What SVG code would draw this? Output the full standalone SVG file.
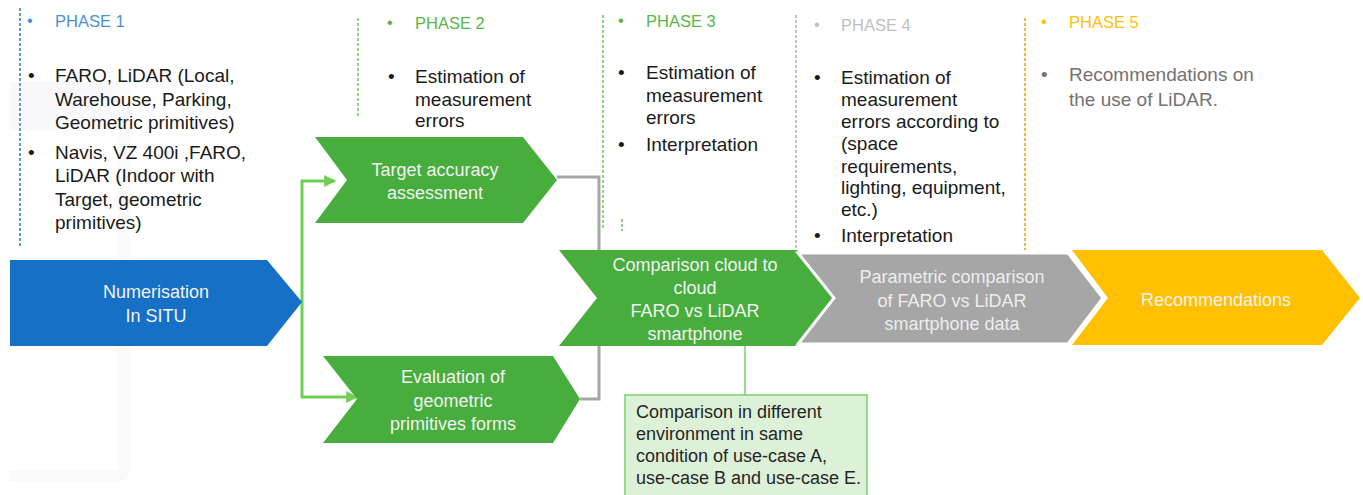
<svg xmlns="http://www.w3.org/2000/svg" width="1363" height="495" viewBox="0 0 1363 495">
<defs>
<style>
text{font-family:"Liberation Sans",Arial,sans-serif}
.body{font-size:19px;fill:#1a1a1a}
.hd{font-size:16.5px}
.lbl{font-size:18px;fill:#f2f2f2;text-anchor:middle}
.note{font-size:18px;fill:#262626}
.dash{fill:none;stroke-width:2;stroke-dasharray:3 2}
.conn-g{fill:none;stroke:#6fcf52;stroke-width:3}
.conn-grey{fill:none;stroke:#a6a6a6;stroke-width:3}
</style>
<marker id="ah" viewBox="0 0 10 10" refX="9" refY="5" markerWidth="4" markerHeight="4" orient="auto" markerUnits="strokeWidth">
<path d="M0,0 L10,5 L0,10 z" fill="#6fcf52"/>
</marker>
</defs>
<rect width="1363" height="495" fill="#ffffff"/>

<!-- faint background shape -->
<g id="bg-faint">
<rect x="10" y="81" width="117" height="49" fill="#f9f9fb"/>
<path d="M124 81 V468 Q124 476 116 476 H10" fill="none" stroke="#fafafa" stroke-width="12"/>
</g>

<!-- phase dashed lines -->
<g id="phase-lines">
<line x1="20" y1="8" x2="20" y2="248" class="dash" stroke="#5b9bd5"/>
<line x1="358" y1="18" x2="358" y2="118" class="dash" stroke="#8fd47c"/>
<line x1="603" y1="15" x2="603" y2="230" class="dash" stroke="#8fd47c"/>
<line x1="622" y1="219" x2="622" y2="231" class="dash" stroke="#8fd47c" stroke-dasharray="5 2"/>
<line x1="796" y1="15" x2="796" y2="252" class="dash" stroke="#c0c0c0"/>
<line x1="1025" y1="18" x2="1025" y2="250" class="dash" stroke="#f4b642"/>
</g>

<g id="phase1">
<text x="27" y="26" class="hd" fill="#4a90d9">•</text>
<text x="55" y="27" class="hd" fill="#4a90d9">PHASE 1</text>
<text x="28" y="82" class="body">•</text>
<text class="body"><tspan x="55" y="82">FARO, LiDAR (Local,</tspan><tspan x="55" y="106">Warehouse, Parking,</tspan><tspan x="55" y="129">Geometric primitives)</tspan></text>
<text x="28" y="159" class="body">•</text>
<text class="body"><tspan x="55" y="159">Navis, VZ 400i ,FARO,</tspan><tspan x="55" y="182">LiDAR (Indoor with</tspan><tspan x="55" y="206">Target, geometric</tspan><tspan x="55" y="229">primitives)</tspan></text>
</g>

<g id="phase2">
<text x="387" y="28" class="hd" fill="#57b847">•</text>
<text x="415" y="29" class="hd" fill="#57b847">PHASE 2</text>
<text x="388" y="83" class="body">•</text>
<text class="body"><tspan x="415" y="83">Estimation of</tspan><tspan x="415" y="106">measurement</tspan><tspan x="415" y="127">errors</tspan></text>
</g>

<g id="phase3">
<text x="618" y="26" class="hd" fill="#57b847">•</text>
<text x="646" y="27" class="hd" fill="#57b847">PHASE 3</text>
<text x="618" y="79" class="body">•</text>
<text class="body"><tspan x="646" y="79">Estimation of</tspan><tspan x="646" y="102">measurement</tspan><tspan x="646" y="124">errors</tspan></text>
<text x="618" y="151" class="body">•</text>
<text x="646" y="151" class="body">Interpretation</text>
</g>

<g id="phase4">
<text x="814" y="30" class="hd" fill="#bfbfbf">•</text>
<text x="841" y="31" class="hd" fill="#bfbfbf">PHASE 4</text>
<text x="814" y="84" class="body">•</text>
<text class="body"><tspan x="841" y="84">Estimation of</tspan><tspan x="841" y="106">measurement</tspan><tspan x="841" y="128">errors according to</tspan><tspan x="841" y="150">(space</tspan><tspan x="841" y="173">requirements,</tspan><tspan x="841" y="194">lighting, equipment,</tspan><tspan x="841" y="216">etc.)</tspan></text>
<text x="814" y="242" class="body">•</text>
<text x="841" y="242" class="body">Interpretation</text>
</g>

<g id="phase5">
<text x="1041" y="27" class="hd" fill="#ffc000">•</text>
<text x="1069" y="28" class="hd" fill="#ffc000">PHASE 5</text>
<text x="1041" y="81" class="body" style="fill:#767171">•</text>
<text class="body" style="fill:#767171"><tspan x="1069" y="81">Recommendations on</tspan><tspan x="1069" y="106">the use of LiDAR.</tspan></text>
</g>

<!-- connectors -->
<g id="connectors">
<path d="M302 301 V181 H335" class="conn-g" marker-end="url(#ah)"/>
<path d="M302 301 V397 H357" class="conn-g" marker-end="url(#ah)"/>
<path d="M557 177 H599 V399 H580" class="conn-grey"/>
<line x1="745" y1="346" x2="745" y2="395" stroke="#7bd06a" stroke-width="1.5"/>
</g>

<g id="numerisation">
<path d="M10 260 H267 L302 302 L267 346 H10 Z" fill="#1570c6"/>
<text class="lbl"><tspan x="156" y="298">Numerisation</tspan><tspan x="156" y="322">In SITU</tspan></text>
</g>

<g id="target">
<path d="M315 137 H523 L557 180 L523 223 H315 L347 180 Z" fill="#47ad3d"/>
<text class="lbl"><tspan x="435" y="176">Target accuracy</tspan><tspan x="435" y="199">assessment</tspan></text>
</g>

<g id="evaluation">
<path d="M323 356 H553 L580 399 L553 443 H323 L357 399 Z" fill="#47ad3d"/>
<text class="lbl"><tspan x="453" y="383">Evaluation of</tspan><tspan x="453" y="407">geometric</tspan><tspan x="453" y="430">primitives  forms</tspan></text>
</g>

<g id="comparison">
<path d="M559 250 H797 L833 298 L797 346 H559 L597 298 Z" fill="#47ad3d"/>
<text class="lbl"><tspan x="695" y="271">Comparison cloud to</tspan><tspan x="695" y="294">cloud</tspan><tspan x="695" y="317">FARO vs LiDAR</tspan><tspan x="695" y="340">smartphone</tspan></text>
</g>

<g id="parametric">
<path d="M798 253 H1068 L1103 298 L1068 344 H798 L834 298 Z" fill="#a6a6a6" stroke="#ffffff" stroke-width="3" stroke-linejoin="miter"/>
<text class="lbl" style="fill:#ededed"><tspan x="952" y="283">Parametric comparison</tspan><tspan x="952" y="307">of FARO vs LiDAR</tspan><tspan x="952" y="330">smartphone data</tspan></text>
</g>

<g id="recommendations">
<path d="M1072 250 H1322 L1360 298 L1322 345 H1072 L1108 298 Z" fill="#ffc000"/>
<text x="1216" y="306" class="lbl">Recommendations</text>
</g>

<g id="note">
<rect x="625" y="395" width="242" height="104" fill="#ddf0d8" stroke="#7bd06a" stroke-width="1.5"/>
<text class="note"><tspan x="636" y="418">Comparison in different</tspan><tspan x="636" y="440">environment in same</tspan><tspan x="636" y="462">condition of use-case A,</tspan><tspan x="636" y="484">use-case B and use-case E.</tspan></text>
</g>
</svg>
